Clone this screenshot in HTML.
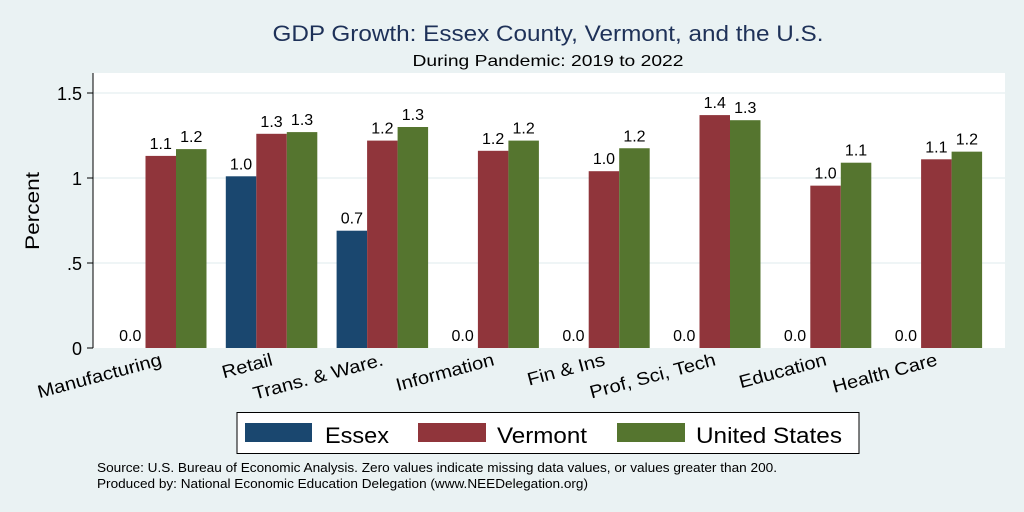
<!DOCTYPE html>
<html><head><meta charset="utf-8"><style>
body{margin:0;background:#eaf2f3;}
svg{display:block;font-family:"Liberation Sans",Arial,sans-serif;}
</style></head><body>
<svg width="1024" height="512" viewBox="0 0 1024 512">
<rect width="1024" height="512" fill="#eaf2f3"/>
<text x="548" y="41" font-size="22" fill="#1e3158" text-anchor="middle" textLength="551" lengthAdjust="spacingAndGlyphs">GDP Growth: Essex County, Vermont, and the U.S.</text>
<text x="548" y="66" font-size="16" fill="#000" text-anchor="middle" textLength="271" lengthAdjust="spacingAndGlyphs">During Pandemic: 2019 to 2022</text>
<rect x="93" y="73" width="912" height="275" fill="#fff"/>
<g id="grid"></g>
<g id="bars"></g>
<g id="axes"></g>
<text transform="translate(39,211) rotate(-90)" font-size="19" text-anchor="middle" textLength="78" lengthAdjust="spacingAndGlyphs">Percent</text>
<g>
<rect x="237" y="412.5" width="622" height="41" fill="#fff" stroke="#000" stroke-width="1"/>
<rect x="245" y="423" width="67" height="19" fill="#1a476f"/>
<text x="325" y="443" font-size="22" textLength="64" lengthAdjust="spacingAndGlyphs">Essex</text>
<rect x="418" y="423" width="68" height="19" fill="#90353b"/>
<text x="497" y="443" font-size="22" textLength="90" lengthAdjust="spacingAndGlyphs">Vermont</text>
<rect x="617" y="423" width="68" height="19" fill="#55752f"/>
<text x="696" y="443" font-size="22" textLength="146" lengthAdjust="spacingAndGlyphs">United States</text>
</g>
<text x="97" y="472" font-size="12.5" textLength="680" lengthAdjust="spacingAndGlyphs">Source: U.S. Bureau of Economic Analysis. Zero values indicate missing data values, or values greater than 200.</text>
<text x="97" y="488" font-size="12.5" textLength="491" lengthAdjust="spacingAndGlyphs">Produced by: National Economic Education Delegation (www.NEEDelegation.org)</text>
</svg>
<script>
const categories=["Manufacturing","Retail","Trans. & Ware.","Information","Fin & Ins","Prof, Sci, Tech","Education","Health Care"];
const essex=[0,1.01,0.69,0,0,0,0,0];
const vermont=[1.13,1.26,1.22,1.16,1.04,1.37,0.955,1.11];
const us=[1.17,1.27,1.30,1.22,1.175,1.34,1.09,1.155];
const yTicks=[0,0.5,1,1.5];
const yTickLabels=["0",".5","1","1.5"];
const seriesNames=["essex","vermont","us"];
const colors=["#1a476f","#90353b","#55752f"];
const NS="http://www.w3.org/2000/svg";
const y0=348,yScale=170,x0=115,step=110.8,bw=30.5;
function yPos(v){return y0-v*yScale;}
function xPos(i,s){return x0+i*step+s*bw;}
function mk(tag,attrs,parent){const e=document.createElementNS(NS,tag);for(const k in attrs)e.setAttribute(k,attrs[k]);parent.appendChild(e);return e;}
function stretch(el,f){const w=el.getComputedTextLength();el.setAttribute('textLength',w*f);el.setAttribute('lengthAdjust','spacingAndGlyphs');}
const grid=document.getElementById('grid'),bars=document.getElementById('bars'),axes=document.getElementById('axes');
yTicks.forEach((t,i)=>{
 if(t>0){const g=mk('line',{x1:93,x2:1005,y1:yPos(t),y2:yPos(t),stroke:'#eaf2f3','stroke-width':1.5},grid);
 
 }
 const tk=mk('line',{x1:87,x2:93,y1:yPos(t),y2:yPos(t),stroke:'#000'},axes);
 
 
 const tl=mk('text',{x:82,y:yPos(t)+7,'font-size':18,'text-anchor':'end'},axes);
 tl.textContent=yTickLabels[i];
 
 
});
const ax=mk('line',{x1:93,x2:93,y1:73,y2:348,stroke:'#000'},axes);


const series=[essex,vermont,us];
categories.forEach((c,i)=>{
 series.forEach((arr,s)=>{
  const v=arr[i];
  const r=mk('rect',{x:xPos(i,s),y:yPos(v),width:bw,height:v*yScale,fill:colors[s]},bars);
  
  
  const t=mk('text',{x:xPos(i,s)+bw/2,y:yPos(v)-7,'font-size':16,'text-anchor':'middle'},bars);
  t.textContent=v.toFixed(1);
  
  
 });
 const cx=xPos(i,1.5)+2;
 const l=mk('text',{x:cx,y:365,'font-size':18,'text-anchor':'end',transform:'rotate(-15 '+cx+' 365)'},axes);
 l.textContent=c;
 
 
 stretch(l,1.12);
});
</script>
</body></html>
